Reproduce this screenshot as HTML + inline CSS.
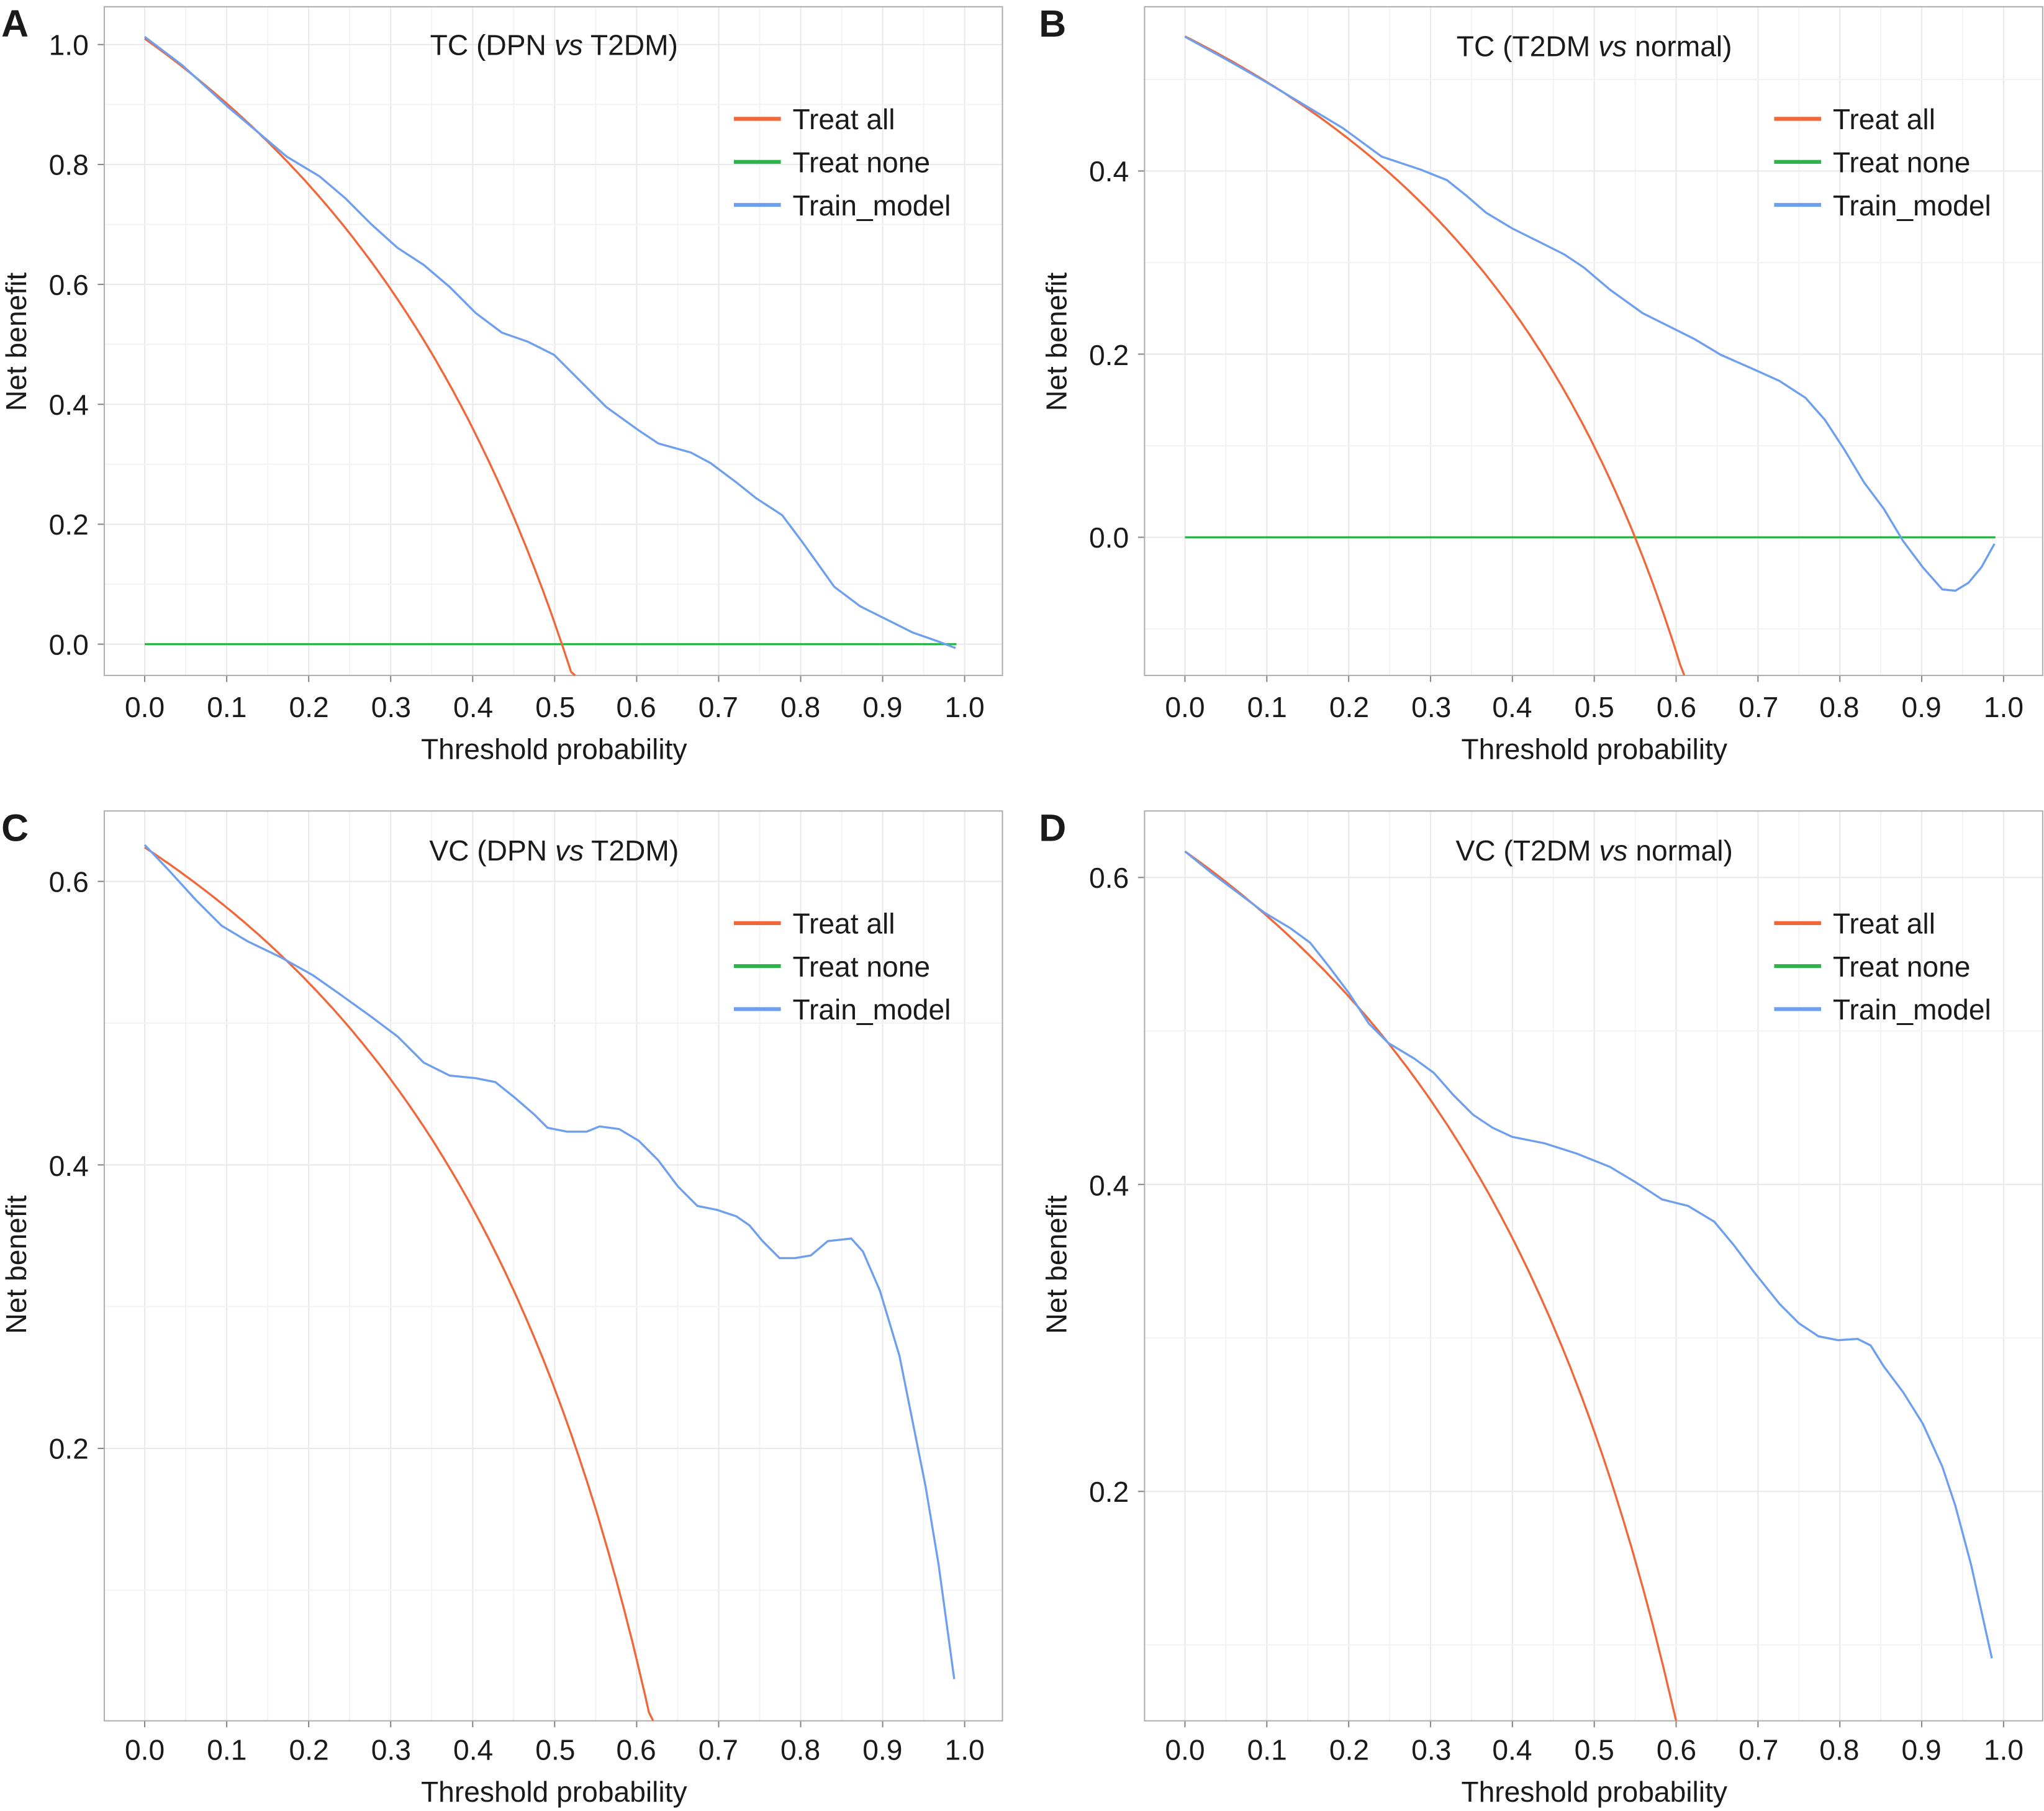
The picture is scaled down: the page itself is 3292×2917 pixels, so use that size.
<!DOCTYPE html>
<html><head><meta charset="utf-8"><style>
html,body{margin:0;padding:0;background:#fff}
svg{display:block}
text{font-family:"Liberation Sans","DejaVu Sans",sans-serif;fill:#1a1a1a}
</style></head><body>
<svg id="s" width="3292" height="2917" viewBox="0 0 1568 1389" xmlns="http://www.w3.org/2000/svg">
<g id="grid"></g>
<g fill="none" stroke="#b0b0b0" stroke-width="1">
<rect x="80" y="5" width="689" height="513"/>
<rect x="878" y="5" width="689" height="513"/>
<rect x="80" y="622" width="689" height="698"/>
<rect x="878" y="622" width="689" height="698"/>
</g>
<g id="curves" fill="none" stroke-width="1.6"></g>
<g font-size="22" text-anchor="middle">
<text x="111" y="550">0.0</text><text x="174" y="550">0.1</text><text x="237" y="550">0.2</text><text x="300" y="550">0.3</text><text x="363" y="550">0.4</text><text x="426" y="550">0.5</text><text x="488" y="550">0.6</text><text x="551" y="550">0.7</text><text x="614" y="550">0.8</text><text x="677" y="550">0.9</text><text x="740" y="550">1.0</text>
<text x="909" y="550">0.0</text><text x="972" y="550">0.1</text><text x="1035" y="550">0.2</text><text x="1098" y="550">0.3</text><text x="1160" y="550">0.4</text><text x="1223" y="550">0.5</text><text x="1286" y="550">0.6</text><text x="1349" y="550">0.7</text><text x="1411" y="550">0.8</text><text x="1474" y="550">0.9</text><text x="1537" y="550">1.0</text>
<text x="111" y="1350">0.0</text><text x="174" y="1350">0.1</text><text x="237" y="1350">0.2</text><text x="300" y="1350">0.3</text><text x="363" y="1350">0.4</text><text x="426" y="1350">0.5</text><text x="488" y="1350">0.6</text><text x="551" y="1350">0.7</text><text x="614" y="1350">0.8</text><text x="677" y="1350">0.9</text><text x="740" y="1350">1.0</text>
<text x="909" y="1350">0.0</text><text x="972" y="1350">0.1</text><text x="1035" y="1350">0.2</text><text x="1098" y="1350">0.3</text><text x="1160" y="1350">0.4</text><text x="1223" y="1350">0.5</text><text x="1286" y="1350">0.6</text><text x="1349" y="1350">0.7</text><text x="1411" y="1350">0.8</text><text x="1474" y="1350">0.9</text><text x="1537" y="1350">1.0</text>
<text x="425" y="582">Threshold probability</text><text x="1223" y="582">Threshold probability</text>
<text x="425" y="1382">Threshold probability</text><text x="1223" y="1382">Threshold probability</text>
<text x="425" y="42">TC (DPN <tspan font-style="italic">vs</tspan> T2DM)</text>
<text x="1223" y="43">TC (T2DM <tspan font-style="italic">vs</tspan> normal)</text>
<text x="425" y="660">VC (DPN <tspan font-style="italic">vs</tspan> T2DM)</text>
<text x="1223" y="660">VC (T2DM <tspan font-style="italic">vs</tspan> normal)</text>
</g>
<g font-size="22" text-anchor="end">
<text x="68" y="42">1.0</text><text x="68" y="134">0.8</text><text x="68" y="226">0.6</text><text x="68" y="318">0.4</text><text x="68" y="410">0.2</text><text x="68" y="502">0.0</text>
<text x="866" y="139">0.4</text><text x="866" y="280">0.2</text><text x="866" y="420">0.0</text>
<text x="68" y="684">0.6</text><text x="68" y="902">0.4</text><text x="68" y="1119">0.2</text>
<text x="866" y="681">0.6</text><text x="866" y="917">0.4</text><text x="866" y="1152">0.2</text>
</g>
<g font-size="22" text-anchor="middle">
<text transform="translate(20,262) rotate(-90)">Net benefit</text>
<text transform="translate(818,262) rotate(-90)">Net benefit</text>
<text transform="translate(20,970) rotate(-90)">Net benefit</text>
<text transform="translate(818,970) rotate(-90)">Net benefit</text>
</g>
<g font-size="29" font-weight="bold">
<text x="1" y="28">A</text><text x="797" y="28">B</text><text x="1" y="645">C</text><text x="797" y="645">D</text>
</g>
<g id="leg" font-size="22"></g>
</svg>
<script>
var NS="http://www.w3.org/2000/svg";
function el(p,t,a){var e=document.createElementNS(NS,t);for(var k in a)e.setAttribute(k,a[k]);p.appendChild(e);return e;}
var P=[
 {x0:111,x1:740,L:80,R:769,T:5,B:518,y0:494,ppu:460,a:1.01,b:0.975,zero:true},
 {x0:909,x1:1537,L:878,R:1567,T:5,B:518,y0:412,ppu:702.5,a:0.547,b:0.448,zero:true},
 {x0:111,x1:740,L:80,R:769,T:622,B:1320,y0:676+0.6*1087.5,ppu:1087.5,a:0.624,b:0.382,zero:false},
 {x0:909,x1:1537,L:878,R:1567,T:622,B:1320,y0:673+0.6*1177.5,ppu:1177.5,a:0.617,b:0.378,zero:false}
];
var blue=[
"111,28 140,50 175,82 200,103 220,120 245,135 265,152 285,172 305,190 325,203 345,220 365,240 385,255 405,262 425,272 445,292 465,312 490,330 505,340 530,347 545,355 565,370 580,382 600,395 615,415 640,450 660,465 680,475 700,485 720,492 733,497",
"909,28 940,45 970,62 1000,80 1030,98 1060,120 1090,130 1110,138 1125,150 1140,163 1160,175 1180,185 1200,195 1215,205 1235,222 1260,240 1280,250 1300,260 1320,272 1345,283 1365,292 1385,305 1400,322 1415,345 1430,370 1445,390 1460,415 1475,435 1490,452 1500,453 1510,447 1520,435 1530,417",
"111,648 130,668 150,690 170,710 190,722 215,734 240,748 260,762 285,780 305,795 325,815 345,825 365,827 380,830 395,842 410,855 420,865 435,868 450,868 460,864 475,866 490,875 505,890 520,910 535,925 550,928 565,933 575,940 585,952 598,965 610,965 622,963 635,952 653,950 662,960 675,990 690,1040 700,1090 710,1140 720,1200 732,1288",
"909,653 930,670 950,685 970,700 990,712 1005,723 1020,742 1035,762 1050,785 1065,800 1085,812 1100,823 1115,840 1130,855 1145,865 1160,872 1185,877 1210,885 1235,895 1255,907 1275,920 1295,925 1315,937 1330,955 1345,975 1365,1000 1380,1015 1395,1025 1410,1028 1425,1027 1435,1032 1445,1048 1460,1068 1475,1092 1490,1125 1500,1155 1512,1200 1528,1272"
];
var g=document.getElementById('grid'),c=document.getElementById('curves'),lg=document.getElementById('leg');
P.forEach(function(p,i){
 var dx=(p.x1-p.x0)/20;
 for(var k=0;k<=20;k++){var x=p.x0+k*dx;el(g,'line',{x1:x,x2:x,y1:p.T,y2:p.B,stroke:k%2?'#f3f3f3':'#e9e9e9','stroke-width':1});}
 var step=p.ppu*0.1;
 for(var k=-20;k<=40;k++){var y=p.y0-k*step;if(y>p.T&&y<p.B)el(g,'line',{x1:p.L,x2:p.R,y1:y,y2:y,stroke:k%2?'#f3f3f3':'#e9e9e9','stroke-width':1});
  if(y>p.T&&y<p.B&&k%2==0)el(g,'line',{x1:p.L-5,x2:p.L,y1:y,y2:y,stroke:'#888'});}
 for(var k=0;k<=10;k++){var x=p.x0+k*dx*2;el(g,'line',{x1:x,x2:x,y1:p.B,y2:p.B+5,stroke:'#888'});}
 if(p.zero)el(c,'line',{x1:p.x0,x2:p.x0+0.99*(p.x1-p.x0),y1:p.y0,y2:p.y0,stroke:'#2db34a'});
 var pts=[];
 for(var t=0;t<0.99;t+=0.005){var v=p.a-p.b*t/(1-t);var y=p.y0-v*p.ppu;if(y>p.B){pts.push((p.x0+t*(p.x1-p.x0)).toFixed(1)+','+p.B);break;}pts.push((p.x0+t*(p.x1-p.x0)).toFixed(1)+','+y.toFixed(1));}
 el(c,'polyline',{points:pts.join(' '),stroke:'#f0673a'});
 el(c,'polyline',{points:blue[i],stroke:'#6e9fef'});
 var ox=p.L+483, oy=p.T+86;
 [['Treat all','#f0673a'],['Treat none','#2db34a'],['Train_model','#6e9fef']].forEach(function(q,j){
  el(lg,'line',{x1:ox,x2:ox+36,y1:oy+j*33,y2:oy+j*33,stroke:q[1],'stroke-width':3});
  var t=el(lg,'text',{x:ox+45,y:oy+j*33+8});t.textContent=q[0];
 });
});
</script>
</body></html>
